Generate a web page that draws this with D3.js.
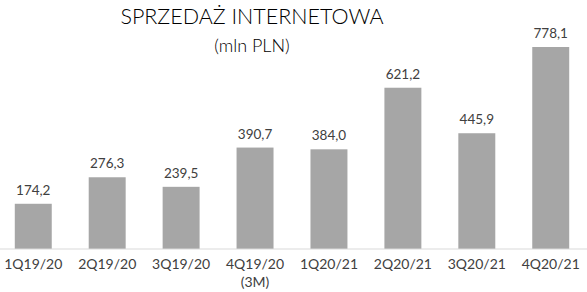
<!DOCTYPE html>
<html>
<head>
<meta charset="utf-8">
<script src="https://cdn.jsdelivr.net/npm/d3@7"></script>
<style>
  body { margin: 0; background: #fff; }
  text { font-family: Lato, 'Open Sans', sans-serif; }
</style>
</head>
<body>
<div id="chart"></div>
<script>
const quarters = ['1Q19/20', '2Q19/20', '3Q19/20', '4Q19/20', '1Q20/21', '2Q20/21', '3Q20/21', '4Q20/21']
const sublabels = ['', '', '', '(3M)', '', '', '', '']
const sales = [174.2, 276.3, 239.5, 390.7, 384.0, 621.2, 445.9, 778.1]

const width = 587
const height = 292
const baseline = 249

const svg = d3
  .select('#chart')
  .append('svg')
  .attr('width', width)
  .attr('height', height)

const xPositionScale = d3
  .scaleBand()
  .domain(quarters)
  .range([0, 584])
  .paddingInner(0.5)
  .paddingOuter(0.2)

const yPositionScale = d3
  .scaleLinear()
  .domain([0, d3.max(sales)])
  .range([baseline, 47])

const fmt = v => d3.format('.1f')(v).replace('.', ',')

// title
svg.append('text')
  .attr('x', 252)
  .attr('y', 24)
  .attr('text-anchor', 'middle')
  .attr('font-size', 21.5)
  .attr('font-weight', 300)
  .attr('fill', '#000')
  .text('SPRZEDAŻ INTERNETOWA')

svg.append('text')
  .attr('x', 252)
  .attr('y', 52)
  .attr('text-anchor', 'middle')
  .attr('font-size', 18)
  .attr('font-weight', 300)
  .attr('fill', '#000')
  .text('(mln PLN)')

// bars
svg.selectAll('.bar')
  .data(sales)
  .enter()
  .append('rect')
  .attr('class', 'bar')
  .attr('x', (d, i) => xPositionScale(quarters[i]))
  .attr('width', xPositionScale.bandwidth())
  .attr('y', d => yPositionScale(d))
  .attr('height', d => baseline - yPositionScale(d))
  .attr('fill', '#a6a6a6')

// value labels
svg.selectAll('.value')
  .data(sales)
  .enter()
  .append('text')
  .attr('class', 'value')
  .attr('x', (d, i) => xPositionScale(quarters[i]) + xPositionScale.bandwidth() / 2)
  .attr('y', d => yPositionScale(d) - 9)
  .attr('text-anchor', 'middle')
  .attr('font-size', 13.5)
  .attr('fill', '#404040')
  .text(d => fmt(d))

// axis
const xAxis = d3.axisBottom(xPositionScale).tickSize(0).tickPadding(0)
const axisG = svg.append('g')
  .attr('class', 'x-axis')
  .attr('transform', 'translate(0,' + baseline + ')')
  .call(xAxis)

axisG.select('.domain').remove()
axisG.append('line')
  .attr('x1', 0)
  .attr('x2', width)
  .attr('stroke', '#d9d9d9')
  .attr('stroke-width', 1)

axisG.selectAll('.tick text')
  .attr('font-family', 'Lato, sans-serif')
  .attr('font-size', 14)
  .attr('fill', '#404040')
  .attr('dy', null)
  .attr('y', 20)

axisG.selectAll('.tick')
  .filter((d, i) => sublabels[i])
  .append('text')
  .attr('font-family', 'Lato, sans-serif')
  .attr('font-size', 14)
  .attr('fill', '#404040')
  .attr('text-anchor', 'middle')
  .attr('y', 38)
  .text((d) => sublabels[quarters.indexOf(d)])
</script>
</body>
</html>
